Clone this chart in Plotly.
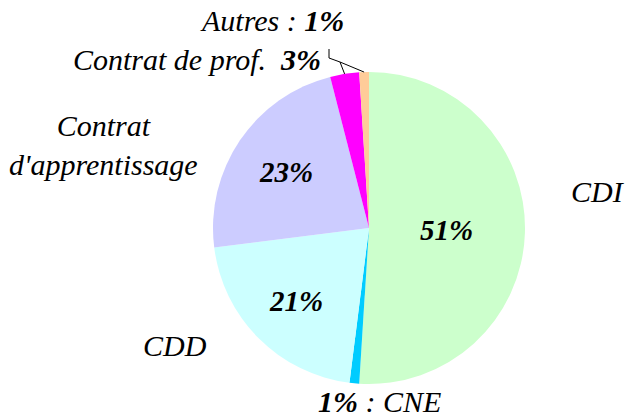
import math
import plotly.graph_objects as go

# ---- data ----
categories = ["CDI", "CNE", "CDD", "Contrat d'apprentissage", "Contrat de prof.", "Autres"]
values = [51, 1, 21, 23, 3, 1]
colors = ["#CCFFCC", "#00CCFF", "#CCFFFF", "#CCCCFF", "#FF00FF", "#FFCC99"]

W, H = 637, 418
CX, CY, R = 369, 228, 156  # pie geometry in pixels

def px(x):
    return x / W

def py(y):
    return 1 - y / H

fig = go.Figure(go.Pie(
    values=values, labels=categories, sort=False, direction="clockwise", rotation=0,
    marker=dict(colors=colors, line=dict(width=0)), textinfo="none", hoverinfo="skip",
    showlegend=False,
    domain=dict(x=[px(CX - R), px(CX + R)], y=[py(CY + R), py(CY - R)]),
))

total = sum(values)
mids = []
acc = 0
for v in values:
    mids.append((acc + v / 2) / total * 2 * math.pi)
    acc += v

def polar(i, f):
    a = mids[i]
    return CX + f * R * math.sin(a), CY - f * R * math.cos(a)

FONT = "'Times New Roman', 'Liberation Serif', serif"
REG = 30
BOLD = 29
ann = []
# inside percentages
inside = {0: 0.5, 2: 0.66, 3: 0.64}
for i, f in inside.items():
    x, y = polar(i, f)
    ann.append(dict(x=px(x), y=py(y), text=f"<b><i>{values[i]}%</i></b>", showarrow=False,
                    font=dict(family=FONT, size=BOLD, color="black"), xanchor="center", yanchor="middle"))

# outside labels (pixel positions of text)
outside = [
    (598, 192, "center", "<i>CDI</i>"),
    (175, 345, "center", "<i>CDD</i>"),
    (103, 145, "center", "<i>Contrat<br>d'apprentissage</i>"),
    (323, 60, "right", f"<i>Contrat de prof.  </i><b><i>{values[4]}%</i></b>"),
    (346, 20, "right", f"<i>Autres : </i><b><i>{values[5]}%</i></b>"),
    (379, 401, "center", f"<b><i>{values[1]}%</i></b><i> : CNE</i>"),
]
for x, y, xa, t in outside:
    ann.append(dict(x=px(x), y=py(y), text=t, showarrow=False, xanchor=xa, yanchor="middle",
                    font=dict(family=FONT, size=REG, color="black")))

# leader lines
shapes = []
joint = (340, 62)
for i in (4, 5):
    x, y = polar(i, 1.0)
    shapes.append(dict(type="line", xref="paper", yref="paper", x0=px(x), y0=py(y),
                       x1=px(joint[0]), y1=py(joint[1]), line=dict(color="black", width=1)))
path_pts = [joint, (329, 58), (329, 49)]
for (a, b), (c, d) in zip(path_pts[:-1], path_pts[1:]):
    shapes.append(dict(type="line", xref="paper", yref="paper", x0=px(a), y0=py(b),
                       x1=px(c), y1=py(d), line=dict(color="black", width=1)))

fig.update_layout(width=W, height=H, margin=dict(l=0, r=0, t=0, b=0),
                  paper_bgcolor="white", plot_bgcolor="white",
                  annotations=ann, shapes=shapes)
fig.write_html("out.html", config={"displayModeBar": False},
               post_script="document.body.style.margin='0px';")
